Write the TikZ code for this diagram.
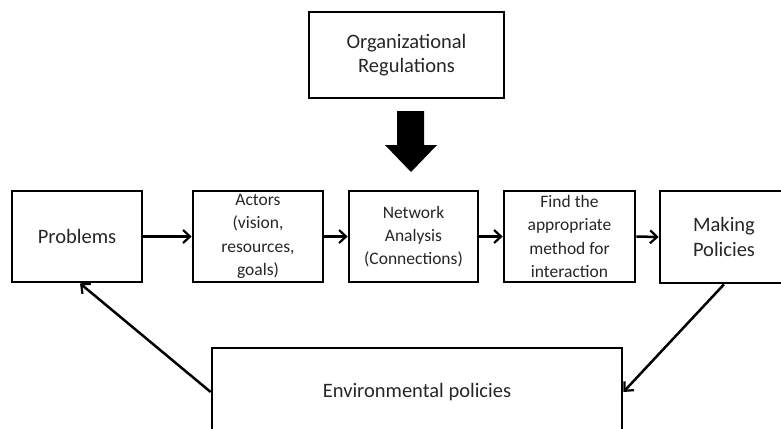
\documentclass[tikz,border=0pt]{standalone}
\usepackage{fontspec}
\setmainfont{Carlito}
\usetikzlibrary{arrows.meta}
\definecolor{txt}{gray}{0.15}
\tikzset{
  box/.style={draw, line width=2.7pt, rectangle, align=center, inner sep=0pt, text=txt},
  smalltext/.style={font=\fontsize{17.5}{23.3}\selectfont},
  bigtext/.style={font=\fontsize{20.5}{24.5}\selectfont},
  conn/.style={line width=2.5pt, -{Straight Barb[length=7pt,width=13pt,line width=2.2pt]}}
}
\begin{document}
\begin{tikzpicture}[x=1pt,y=-1pt]
\useasboundingbox (0,0) rectangle (781,428);
\clip (0,0) rectangle (781,428);
\node[box, bigtext, minimum width=195pt, minimum height=86pt] (org) at (406.5,55) {Organizational\\Regulations};
\node[box, bigtext, minimum width=130pt, minimum height=91pt] (prob) at (77,236.5) {Problems};
\node[box, smalltext, minimum width=130pt, minimum height=91pt] (actors) at (258,236.5) {Actors\\(vision,\\resources,\\goals)};
\node[box, smalltext, minimum width=129pt, minimum height=91pt] (net) at (413.5,236.5) {Network\\Analysis\\(Connections)};
\node[box, smalltext, minimum width=131pt, minimum height=91pt] (find) at (569.5,236.5) {Find the\\appropriate\\method for\\interaction};
\node[box, bigtext, minimum width=140pt, minimum height=92pt] (making) at (730,237) {Making\hspace*{12pt}\\Policies\hspace*{12pt}};
\node[box, bigtext, minimum width=410pt, minimum height=88pt] (env) at (417,392) {Environmental policies};
% block arrow from regulations to network analysis
\fill (397,111) -- (424,111) -- (424,145) -- (437,145) -- (411,172) -- (385,145) -- (397,145) -- cycle;
\draw[conn] (prob.east) -- (actors.west);
\draw[conn] (actors.east) -- (net.west);
\draw[conn] (net.east) -- (find.west);
\draw[conn] (find.east) -- (making.west);
\draw[conn] ([xshift=-6pt]making.south) -- (env.east);
\draw[conn] (env.west) -- ([xshift=3pt]prob.south);
\end{tikzpicture}
\end{document}
